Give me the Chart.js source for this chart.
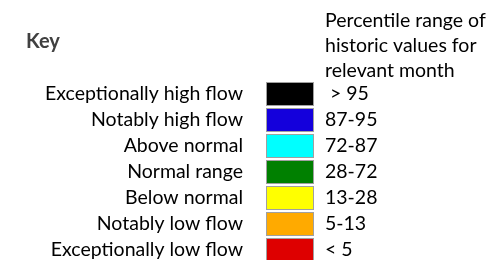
<!DOCTYPE html>
<html>
<head>
<meta charset="utf-8">
<script src="https://cdn.jsdelivr.net/npm/chart.js@4.4.1/dist/chart.umd.min.js"></script>
<style>
html,body{margin:0;padding:0;background:#fff;overflow:hidden;width:504px;height:260px;}
#c{position:absolute;left:0;top:0;}
</style>
</head>
<body>
<canvas id="c" width="504" height="264"></canvas>
<script>
const categories = ["Exceptionally high flow","Notably high flow","Above normal","Normal range","Below normal","Notably low flow","Exceptionally low flow"];
const rangeLabels = [" > 95","87-95","72-87","28-72","13-28","5-13","< 5"];
const boxValues = [1,1,1,1,1,1,1];
const boxColors = ["#000000","#1400dc","#00ffff","#008000","#ffff00","#ffaa00","#de0000"];
const titleText = "Key";
const headerLines = ["Percentile range of","historic values for","relevant month"];

const FONT = "Lato";
const FS = 19.5;

const textPlugin = {
  id: 'textPlugin',
  afterDraw(chart) {
    const ctx = chart.ctx;
    ctx.save();
    ctx.textBaseline = 'alphabetic';
    ctx.textAlign = 'left';
    ctx.fillStyle = '#404040';
    ctx.font = 'bold 20px ' + FONT;
    ctx.fillText(titleText, 26, 48);
    ctx.fillStyle = '#000000';
    ctx.font = FS + 'px ' + FONT;
    headerLines.forEach((t, i) => ctx.fillText(t, 325, 27 + i * 25));
    ctx.restore();
  }
};

function fixV(width) {
  return function (s) {
    s.width = width;
    s.paddingTop = 0;
    s.paddingBottom = 0;
  };
}

new Chart(document.getElementById('c'), {
  type: 'bar',
  data: {
    labels: categories,
    datasets: [{
      data: boxValues,
      backgroundColor: boxColors,
      borderColor: '#a0a0a0',
      borderWidth: 1,
      borderSkipped: false,
      barPercentage: 24/26,
      categoryPercentage: 1,
      yAxisID: 'y'
    }]
  },
  options: {
    indexAxis: 'y',
    responsive: false,
    animation: false,
    devicePixelRatio: 1,
    layout: { padding: { top: 81, bottom: 1, left: 0, right: 0 } },
    plugins: { legend: { display: false }, tooltip: { enabled: false }, title: { display: false } },
    scales: {
      x: { display: false, min: 0, max: 1 },
      y: {
        position: 'left',
        offset: true,
        grid: { display: false, drawTicks: false, offset: true },
        border: { display: false },
        ticks: { color: '#000', font: { family: FONT, size: FS }, padding: 23, autoSkip: false },
        afterFit: fixV(266)
      },
      y2: {
        type: 'category',
        labels: rangeLabels,
        position: 'right',
        offset: true,
        grid: { display: false, drawTicks: false, offset: true },
        border: { display: false },
        ticks: { color: '#000', font: { family: FONT, size: FS }, padding: 11, autoSkip: false },
        afterFit: fixV(190)
      }
    }
  },
  plugins: [textPlugin]
});
</script>
</body>
</html>
